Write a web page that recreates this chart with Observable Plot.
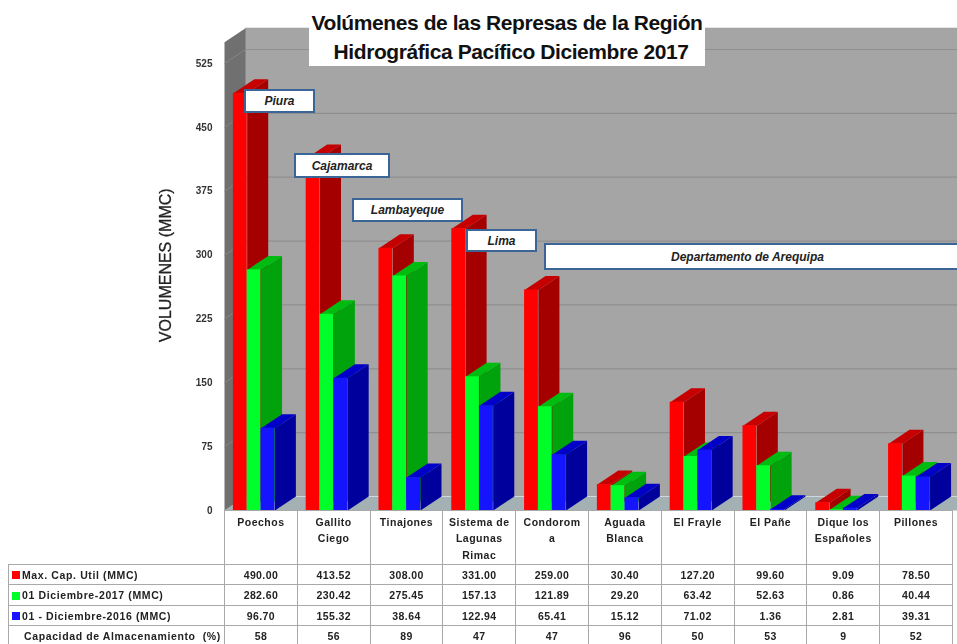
<!DOCTYPE html>
<html lang="es">
<head>
<meta charset="utf-8">
<script src="https://cdn.jsdelivr.net/npm/d3@7"></script>
<script src="https://cdn.jsdelivr.net/npm/@observablehq/plot@0.6"></script>
<style>
html,body{margin:0;padding:0;background:#fff;width:957px;height:644px;overflow:hidden;font-family:"Liberation Sans",Arial,sans-serif}
#page{position:relative;width:957px;height:644px;overflow:hidden;filter:blur(.6px)}
#title{position:absolute;left:309px;top:8px;width:396px;height:58px;background:#fff;color:#111;font-size:21px;font-weight:bold;line-height:29px;text-align:center;white-space:nowrap;letter-spacing:-.42px}
#title div:last-child{padding-left:8px}
.tag{position:absolute;box-sizing:border-box;background:#fff;border:2px solid #3b6596;font:italic bold 12px "Liberation Sans",Arial,sans-serif;color:#222;display:flex;align-items:center;justify-content:center;white-space:nowrap}
table{position:absolute;left:8px;top:510px;border-collapse:collapse;table-layout:fixed;width:944px;font-size:10.5px;font-weight:bold;color:#222;letter-spacing:.4px}
td{border:1px solid #a9a9a9;text-align:center;padding:0;vertical-align:middle;overflow:hidden;line-height:14px}
td.h{vertical-align:top;padding-top:2.5px;line-height:16.5px;letter-spacing:.5px}
td.n{text-align:left;padding-left:3px;white-space:nowrap;letter-spacing:.62px}
td.none{border:0;border-right:1px solid #a9a9a9}
i.k{display:inline-block;width:8px;height:8px;margin-right:2px;vertical-align:-0.5px}
</style>
</head>
<body>
<div id="page"></div>
<script>
// ---------- data ----------
const title = ["Volúmenes de las Represas de la Región", "Hidrográfica Pacífico Diciembre 2017"];
const yLabel = "VOLUMENES (MMC)";
const represas = ["Poechos", "Gallito Ciego", "Tinajones", "Sistema de Lagunas Rimac", "Condoroma", "Aguada Blanca", "El Frayle", "El Pañe", "Dique los Españoles", "Pillones"];
const represasHtml = ["Poechos", "Gallito<br>Ciego", "Tinajones", "Sistema de<br>Lagunas<br>Rimac", "Condorom<br>a", "Aguada<br>Blanca", "El Frayle", "El Pañe", "Dique los<br>Españoles", "Pillones"];
const maxCap = [490.00, 413.52, 308.00, 331.00, 259.00, 30.40, 127.20, 99.60, 9.09, 78.50];
const dic2017 = [282.60, 230.42, 275.45, 157.13, 121.89, 29.20, 63.42, 52.63, 0.86, 40.44];
const dic2016 = [96.70, 155.32, 38.64, 122.94, 65.41, 15.12, 71.02, 1.36, 2.81, 39.31];
const capacidad = [58, 56, 89, 47, 47, 96, 50, 53, 9, 52];
const yTicks = [0, 75, 150, 225, 300, 375, 450, 525];
const seriesNames = ["Max. Cap. Util (MMC)", "01 Diciembre-2017 (MMC)", "01 - Diciembre-2016 (MMC)"];
const capName = "Capacidad de Almacenamiento  (%)";
const departamentos = ["Piura", "Cajamarca", "Lambayeque", "Lima", "Departamento de Arequipa"];

// ---------- styling and layout ----------
const series = [
  {values: maxCap,  front: "#ff0000", side: "#a50000", top: "#c60000", key: "#ff0000"},
  {values: dic2017, front: "#00ff2a", side: "#00a30c", top: "#00bb10", key: "#00ff2a"},
  {values: dic2016, front: "#1414ff", side: "#00009c", top: "#0000c8", key: "#1414ff"}
];
const tagBoxes = [[244, 89, 71, 24], [294, 153, 96, 25], [352, 198, 111, 24], [466, 229, 71, 23], [544, 243, 430, 27]];
const plotW = 728, plotH = 447, plotTop = 63;           // px extent of the x and y scales
const dX = 21 / (plotW / 10), dV = 14 / (plotH / 525); // 3-D depth in data units
const wallTop = 550, xEnd = 10.4;
const barStart = 0.122, barW = 0.19;

// ---------- 3-D faces built from the values ----------
const poly = (rows) => rows.flatMap((pts, id) => pts.map(([x, y]) => ({id, x, y})));
const faces = (s, k) => {
  const sx = (i) => i + barStart + k * barW;
  const rows = s.values.map((v, i) => ({v, x0: sx(i), x1: sx(i) + barW}));
  return [
    Plot.line(poly(rows.map(({v, x1}) => [[x1, 0], [x1, v], [x1 + dX, v + dV], [x1 + dX, dV]])),
      {x: "x", y: "y", z: "id", fill: s.side, stroke: "none"}),
    Plot.line(poly(rows.map(({v, x0, x1}) => [[x0, v], [x1, v], [x1 + dX, v + dV], [x0 + dX, v + dV]])),
      {x: "x", y: "y", z: "id", fill: s.top, stroke: "none"}),
    Plot.rect(rows, {x1: "x0", x2: "x1", y1: 0, y2: "v", fill: s.front})
  ];
};

const chart = Plot.plot({
  width: 957, height: 520,
  marginLeft: 224, marginRight: 5, marginTop: plotTop, marginBottom: 10,
  style: {background: "transparent", overflow: "visible", fontFamily: "'Liberation Sans', Arial, sans-serif"},
  x: {domain: [0, 10], axis: null},
  y: {domain: [0, 525], axis: null},
  marks: [
    // back wall
    Plot.rect([0], {x1: dX, x2: xEnd, y1: dV, y2: wallTop + dV, fill: "#a5a5a5"}),
    // floor
    Plot.line(poly([[[0, 0], [dX, dV], [xEnd, dV], [xEnd, 0]]]), {x: "x", y: "y", z: "id", fill: "#a3b1b5", stroke: "none"}),
    // side wall
    Plot.line(poly([[[0, 0], [dX, dV], [dX, wallTop + dV], [0, wallTop]]]), {x: "x", y: "y", z: "id", fill: "#707070", stroke: "none"}),
    // grid on the back wall and on the side wall
    Plot.ruleY(yTicks.filter((t) => t > 0), {y: (t) => t + dV, x1: dX, x2: xEnd, stroke: "#8f8f8f", strokeWidth: 1.2}),
    Plot.link(yTicks.filter((t) => t > 0), {x1: 0, y1: (t) => t, x2: dX, y2: (t) => t + dV, stroke: "#858585"}),
    // bars, painted back to front within each group
    ...series.flatMap(faces),
    Plot.axisY({ticks: yTicks, tickSize: 0, tickPadding: 12, label: null, fontSize: 10, fontWeight: "bold", fill: "#333"}),
    Plot.text([yLabel], {x: -0.81, y: 288, rotate: -90, text: (d) => d, fontSize: 16, fill: "#222", stroke: "#222", strokeWidth: 0.3})
  ]
});

const page = document.getElementById("page");
page.append(chart);

// ---------- title ----------
const t = document.createElement("div");
t.id = "title";
t.innerHTML = title.map((s) => `<div>${s}</div>`).join("");
page.append(t);

// ---------- department tags ----------
departamentos.forEach((name, i) => {
  const [l, tp, w, h] = tagBoxes[i];
  const d = document.createElement("div");
  d.className = "tag";
  d.textContent = name;
  d.style.cssText = `left:${l}px;top:${tp}px;width:${w}px;height:${h}px;`;
  if (i === 4) d.style.justifyContent = "flex-start", d.style.paddingLeft = "125px";
  page.append(d);
});

// ---------- data table ----------
const fmt = d3.format(".2f");
const rowHeights = [54, 20, 21, 20, 20];
let html = `<colgroup><col style="width:216px">${represas.map(() => `<col style="width:72.8px">`).join("")}</colgroup>`;
html += `<tr style="height:${rowHeights[0]}px"><td class="none"></td>${represasHtml.map((n) => `<td class="h">${n}</td>`).join("")}</tr>`;
series.forEach((s, k) => {
  html += `<tr style="height:${rowHeights[k + 1]}px"><td class="n"><i class="k" style="background:${s.key}"></i>${seriesNames[k]}</td>${s.values.map((v) => `<td>${fmt(v)}</td>`).join("")}</tr>`;
});
html += `<tr style="height:${rowHeights[4]}px"><td class="n" style="padding-left:15px">${capName.replace("  ", "&nbsp; ")}</td>${capacidad.map((v) => `<td>${v}</td>`).join("")}</tr>`;
const tb = document.createElement("table");
tb.innerHTML = html;
page.append(tb);
</script>
</body>
</html>
